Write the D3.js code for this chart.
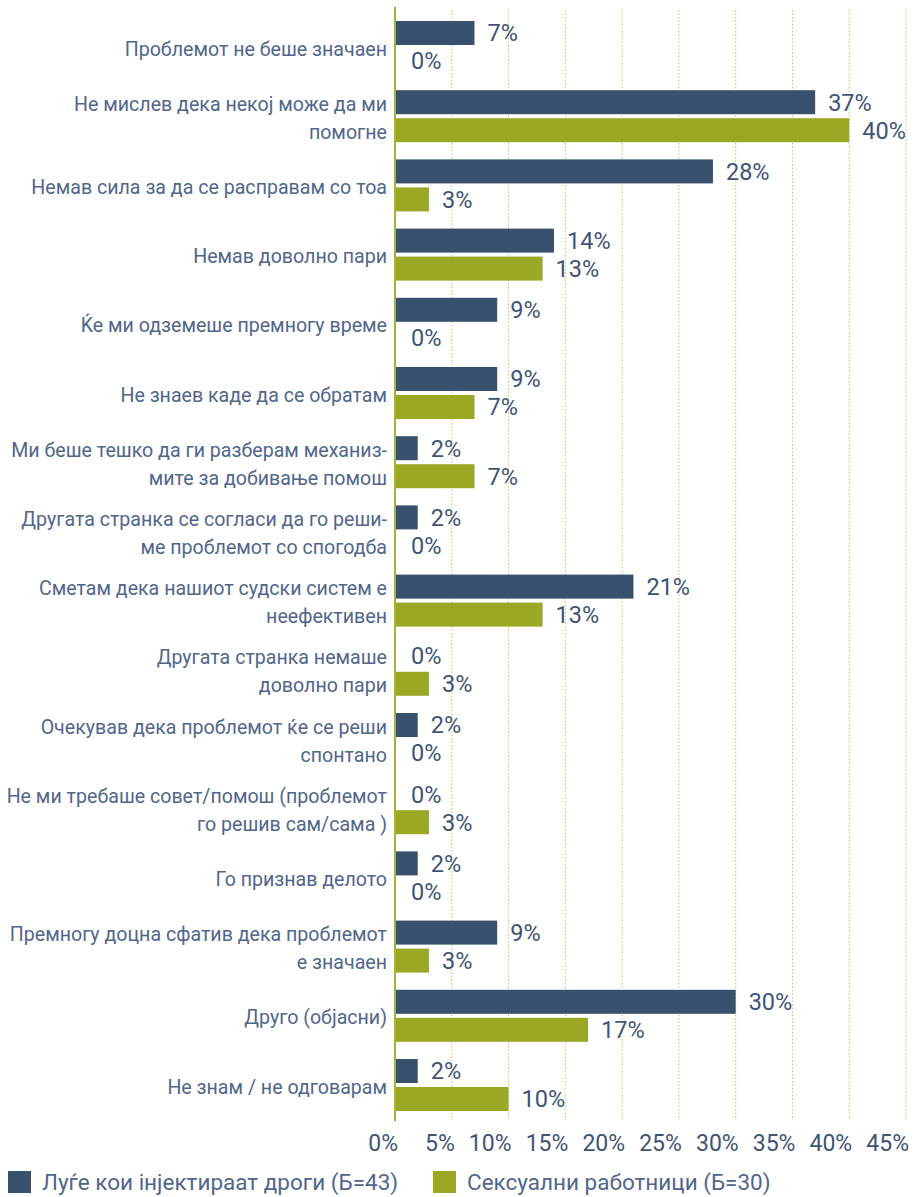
<!DOCTYPE html>
<html>
<head>
<meta charset="utf-8">
<script src="https://cdn.jsdelivr.net/npm/d3@7"></script>
<style>
  html, body { margin: 0; padding: 0; background: #ffffff; }
  svg { display: block; font-family: Roboto, "Noto Sans", sans-serif; }
</style>
</head>
<body>
<svg id="chart" width="918" height="1197"></svg>
<script>
// Reasons for not seeking help, by group (percent)
const categories = [
  ["Проблемот не беше значаен"],
  ["Не мислев дека некој може да ми", "помогне"],
  ["Немав сила за да се расправам со тоа"],
  ["Немав доволно пари"],
  ["Ќе ми одземеше премногу време"],
  ["Не знаев каде да се обратам"],
  ["Ми беше тешко да ги разберам механиз-", "мите за добивање помош"],
  ["Другата странка се согласи да го реши-", "ме проблемот со спогодба"],
  ["Сметам дека нашиот судски систем е", "неефективен"],
  ["Другата странка немаше", "доволно пари"],
  ["Очекував дека проблемот ќе се реши", "спонтано"],
  ["Не ми требаше совет/помош (проблемот", "го решив сам/сама )"],
  ["Го признав делото"],
  ["Премногу доцна сфатив дека проблемот", "е значаен"],
  ["Друго (објасни)"],
  ["Не знам / не одговарам"]
];
const seriesNames = ["Луѓе кои інјектираат дроги (Б=43)", "Сексуални работници (Б=30)"];
const drugUsers   = [7, 37, 28, 14, 9, 9, 2, 2, 21, 0, 2, 0, 2, 9, 30, 2];
const sexWorkers  = [0, 40, 3, 13, 0, 7, 7, 0, 13, 3, 0, 3, 0, 3, 17, 10];
const tickValues  = [0, 5, 10, 15, 20, 25, 30, 35, 40, 45];
const colors = ["#37516f", "#9aa824"];

const svg = d3.select("#chart");
const textColor = "#3f5474";
const labelColor = "#52668a";

const x = d3.scaleLinear().domain([0, 45]).range([395, 906]);
const rowKeys = categories.map((c, i) => i);
const y = d3.scaleBand().domain(rowKeys).range([14, 14 + 16 * 69.2]).paddingInner(0);
const ySub = d3.scaleBand().domain([0, 1]).range([7, 59]).paddingInner(4 / 28);

// Vertical dotted gridlines
svg.append("g")
  .selectAll("line")
  .data(tickValues.slice(1))
  .join("line")
  .attr("x1", d => x(d)).attr("x2", d => x(d))
  .attr("y1", 10).attr("y2", 1120)
  .attr("stroke", "#bcc65a")
  .attr("stroke-width", 1)
  .attr("stroke-dasharray", "1.5,2");

// Bars
const rows = svg.append("g")
  .selectAll("g")
  .data(rowKeys)
  .join("g")
  .attr("transform", i => `translate(0,${y(i)})`);

const seriesData = [drugUsers, sexWorkers];
rows.each(function (i) {
  const g = d3.select(this);
  seriesData.forEach((vals, s) => {
    const v = vals[i];
    g.append("rect")
      .attr("x", x(0))
      .attr("y", ySub(s))
      .attr("width", x(v) - x(0))
      .attr("height", ySub.bandwidth())
      .attr("fill", colors[s]);
    g.append("text")
      .attr("x", x(v) + (v === 0 ? 16 : 13))
      .attr("y", ySub(s) + ySub.bandwidth() / 2)
      .attr("dy", "0.36em")
      .attr("fill", textColor)
      .attr("font-size", 23.5)
      .text(v + "%");
  });
  // Category label, right aligned, vertically centred on the row
  const lines = categories[i];
  const lh = 28;
  const cy = y.bandwidth() / 2;
  const t = g.append("text")
    .attr("text-anchor", "end")
    .attr("fill", labelColor)
    .attr("font-size", 19.6);
  lines.forEach((ln, k) => {
    t.append("tspan")
      .attr("x", 387)
      .attr("y", cy + (k - (lines.length - 1) / 2) * lh)
      .attr("dy", "0.36em")
      .text(ln);
  });
});

// Value axis line
svg.append("line")
  .attr("x1", x(0)).attr("x2", x(0))
  .attr("y1", 7).attr("y2", 1121)
  .attr("stroke", "#a5b338")
  .attr("stroke-width", 2);

// Tick labels
svg.append("g")
  .selectAll("text")
  .data(tickValues)
  .join("text")
  .attr("x", d => x(d) + 3)
  .attr("y", 1143)
  .attr("dy", "0.36em")
  .attr("text-anchor", "end")
  .attr("fill", textColor)
  .attr("font-size", 23)
  .text(d => d + "%");

// Legend
const legendX = [8, 433];
const legend = svg.append("g")
  .selectAll("g")
  .data(seriesNames)
  .join("g")
  .attr("transform", (d, i) => `translate(${legendX[i]},1171)`);
legend.append("rect")
  .attr("width", 23).attr("height", 22)
  .attr("fill", (d, i) => colors[i]);
legend.append("text")
  .attr("x", 34)
  .attr("y", 11)
  .attr("dy", "0.36em")
  .attr("fill", labelColor)
  .attr("font-size", 22.5)
  .text(d => d);
</script>
</body>
</html>
